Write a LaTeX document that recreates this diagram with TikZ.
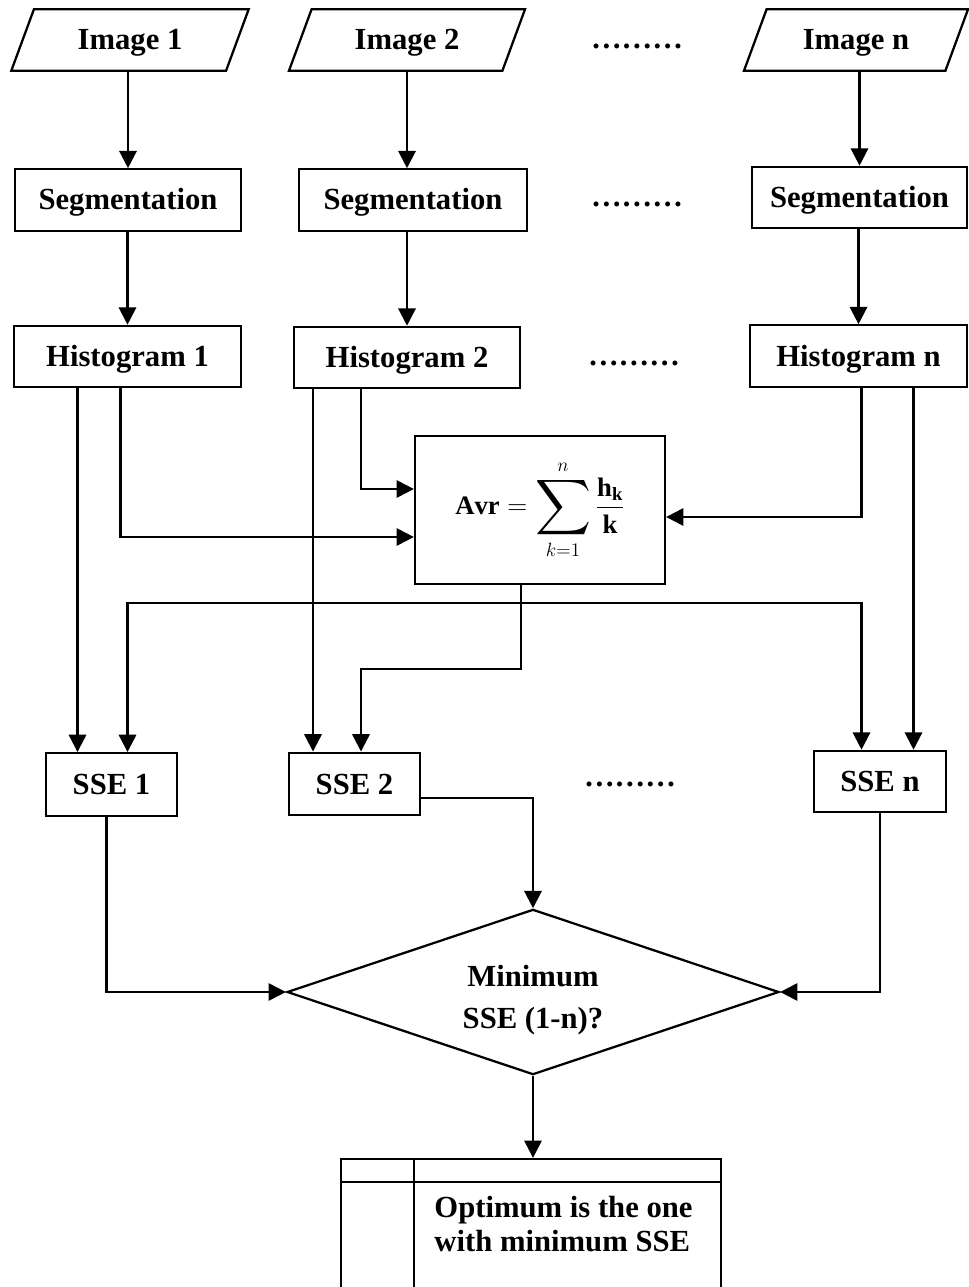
\documentclass[tikz,border=0pt]{standalone}
\usepackage{amsmath}
\usepackage{graphicx}
\usepackage{fontspec}
\setmainfont{Liberation Serif}
\usetikzlibrary{shapes.geometric, arrows.meta, calc}

\newcommand{\bigsum}{\mathop{\vcenter{\hbox{\scalebox{1.4}{$\displaystyle\sum$}}}}\limits}

\begin{document}
\begin{tikzpicture}[x=0.75pt, y=-0.75pt, line width=1.7pt, >={Triangle[length=13pt, width=13pt]},
  lbl/.style={font=\fontsize{23}{25}\selectfont\bfseries},
  boxlbl/.style={lbl, text height=15pt, text depth=0pt},
  inbox/.style={draw, trapezium, trapezium left angle=52, trapezium right angle=128, trapezium stretches body, boxlbl, minimum height=46pt},
  proc/.style={draw, rectangle, boxlbl, minimum height=46pt},
  ssebox/.style={draw, rectangle, boxlbl, minimum width=98pt, minimum height=47pt},
  decide/.style={draw, diamond, aspect=3, minimum width=369pt, minimum height=124pt}]
\useasboundingbox (0,0) rectangle (969,1287);
\node[inbox, minimum width=178pt] (img1) at (130,40) {Image 1};
\node[inbox, minimum width=177pt] (img2) at (407,40) {Image 2};
\node[inbox, minimum width=168pt] (imgn) at (856,40) {Image n};
\node[lbl] (dots1) at (637,46) {………};
\node[proc, minimum width=169.5pt] (seg1) at (128,200) {Segmentation};
\node[proc, minimum width=171pt] (seg2) at (413,200) {Segmentation};
\node[proc, minimum width=161pt] (segn) at (859.5,197.5) {Segmentation};
\node[lbl] (dots2) at (637,204) {………};
\node[proc, minimum width=170pt] (hist1) at (127.5,356.5) {Histogram 1};
\node[proc, minimum width=169.5pt] (hist2) at (407,357.5) {Histogram 2};
\node[proc, minimum width=163pt] (histn) at (858.5,356) {Histogram n};
\node[lbl] (dots3) at (634,363) {………};
\node[draw, rectangle, minimum width=187.5pt, minimum height=111pt, font=\fontsize{20}{24}\selectfont] (avr) at (540,510) {$\displaystyle \mathbf{Avr}=\bigsum_{k=1}^{n}\frac{\mathbf{h}_{\mathbf{k}}}{\mathbf{k}}$};
\node[ssebox] (sse1) at (111.5,784.5) {SSE 1};
\node[ssebox] (sse2) at (354.5,784) {SSE 2};
\node[ssebox, minimum width=99pt, minimum height=46pt] (ssen) at (880,781.5) {SSE n};
\node[lbl] (dots4) at (630,784) {………};
\node[decide] (dec) at (533,992) {};
\node[lbl, align=center] (dectxt) at ($(dec)+(0,8)$) {Minimum\\[6pt]SSE (1-n)?};
\node[draw, rectangle, minimum width=285pt, minimum height=120pt] (res) at (531,1239) {};
\node[lbl, anchor=west, align=left] (restxt) at ($(res.north west)+(89,66)$) {Optimum is the one\\with minimum SSE};
\draw ($(res.north west)+(0,24)$) -- ($(res.north east)+(0,24)$);
\draw ($(res.north west)+(74,0)$) -- ($(res.south west)+(74,0)$);
% taps
\coordinate (h1a) at ($(hist1.south)+(-50,0)$);
\coordinate (h1b) at ($(hist1.south)+(-7,0)$);
\coordinate (h2a) at ($(hist2.south)+(-94,0)$);
\coordinate (h2b) at ($(hist2.south)+(-46,0)$);
\coordinate (hna) at ($(histn.south)+(3,0)$);
\coordinate (hnb) at ($(histn.south)+(55,0)$);
\coordinate (av) at ($(avr.south)+(-19,0)$);
\coordinate (split) at ($(av)+(0,18)$);
\coordinate (bend) at ($(av)+(0,84)$);
% Arrows
\draw[->] (img1.south -| seg1.north) -- (seg1.north);
\draw[->] (img2.south) -- (img2.south |- seg2.north);
\draw[->] (imgn.south -| segn.north) -- (segn.north);
\draw[->] (seg1.south -| hist1.north) -- (hist1.north);
\draw[->] (seg2.south -| hist2.north) -- (hist2.north);
\draw[->] (segn.south -| histn.north) -- (histn.north);
\draw[->] (h1b) |- ($(avr.west)+(0,27)$);
\draw[->] (h2b) |- ($(avr.west)+(0,-21)$);
\draw[->] (hna) |- ($(avr.east)+(0,7)$);
\draw[->] (h1a) -- (h1a |- sse1.north);
\draw[->] (h2a) -- (h2a |- sse2.north);
\draw[->] (hnb) -- (hnb |- ssen.north);
\draw[->] (split) -| (hist1.south |- sse1.north);
\draw[->] (split) -| (hna |- ssen.north);
\draw[->] (av) -- (bend) -| (h2b |- sse2.north);
% to the decision
\draw[->] ($(sse1.south)+(-5,0)$) |- (dec.west);
\draw[->] ($(sse2.east)+(0,14)$) -| (dec.north);
\draw[->] (ssen.south) |- (dec.east);
\draw[->] (dec.south) -- (dec.south |- res.north);
\end{tikzpicture}
\end{document}
